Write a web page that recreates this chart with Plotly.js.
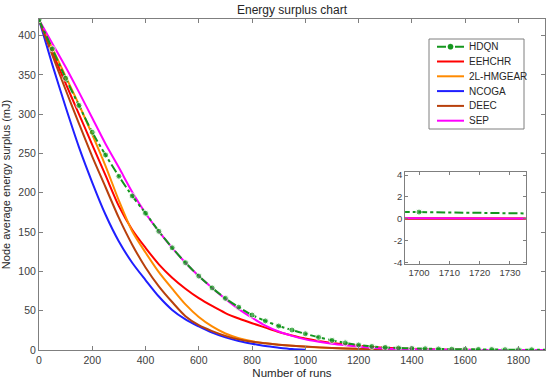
<!DOCTYPE html>
<html>
<head>
<meta charset="utf-8">
<script src="https://cdn.plot.ly/plotly-3.0.1.min.js"></script>
<style>html,body{margin:0;padding:0;background:#fff;}#chart{width:550px;height:386px;}</style>
</head>
<body>
<div id="chart"></div>
<script>
// ---- data ----
const seriesNames = ["HDQN", "EEHCHR", "2L-HMGEAR", "NCOGA", "DEEC", "SEP"];

const runsHDQN = [0,50,100,150,200,250,300,350,400,450,500,550,600,650,700,750,800,850,900,950,1000,1050,1100,1150,1200,1250,1300,1350,1400,1450,1500,1550,1600,1650,1700,1750,1800,1850,1900];
const valHDQN  = [420,383,345.6,311,277,248,221,196,174,151,130,111,94,79,65.7,54.5,44.5,37,30.5,25.4,20.6,16.1,12.3,9.1,6.4,4.5,3.3,2.5,2,1.6,1.3,1.1,0.9,0.78,0.62,0.45,0.36,0.3,0.25];

const runsEEHCHR = [0,50,100,150,200,250,300,350,400,450,500,550,600,650,700,750,800,850,900,950,1000,1050,1100,1150,1200,1300,1400,1500,1600,1700,1800,1900];
const valEEHCHR  = [420,379,339,300,261,222,183,153,130,109,92,78,66,56,47,40,34,28.5,23,18.5,14.5,11.5,9,7,5.5,3,1.5,0.7,0.25,0.05,0,0];

const runs2L = [0,50,100,150,200,250,300,350,400,450,500,550,600,650,700,750,800,850,900,950,1000,1100,1200,1300,1400,1500,1600,1700,1800,1900];
const val2L  = [420,384,348,312,274,234,190,151,124,99,78,58,42,30,21,15,11,8.5,6.8,5.4,4.2,2.5,1.2,0.5,0.2,0.05,0,0,0,0];

const runsNCOGA = [0,50,100,150,200,250,300,350,400,450,500,550,600,650,700,750,800,850,900,950,1000];
const valNCOGA  = [420,363,309,258,213,172,138,111,89,68,51,39,30,22,16,11.5,8,5,3,1.3,0.3];

const runsDEEC = [0,50,100,150,200,250,300,350,400,450,500,550,600,650,700,750,800,850,900,950,1000,1100,1200,1300,1400,1500,1600,1700,1800,1900];
const valDEEC  = [420,375,331,288,246,207,168,134,105,81,61,43,31.5,24,18,13.5,10.5,8.5,6.8,5.4,4.3,2.6,1.5,0.7,0.3,0.1,0,0,0,0];

const runsSEP = [0,50,100,150,200,250,300,350,400,450,500,550,600,650,700,750,800,850,900,950,1000,1050,1100,1150,1200,1250,1300,1400,1500,1600,1700,1800,1900];
const valSEP  = [420,390,360,328,295,262,232,201,174,151,130,111,94,79,65,52,41,31,23.5,18,13.5,10.5,8,6,4.3,3,2,1,0.5,0.2,0.05,0,0];

const xTicks = [0,200,400,600,800,1000,1200,1400,1600,1800];
const yTicks = [0,50,100,150,200,250,300,350,400];
const insetXTicks = [1700,1710,1720,1730];
const insetYTicks = [-4,-2,0,2,4];

// ---- styles ----
const colors = {HDQN:"#14961e", EEHCHR:"#ff0000", "2L-HMGEAR":"#ff8a00", NCOGA:"#1f1fff", DEEC:"#b8400c", SEP:"#ff00ff"};
const font = "Liberation Sans, Arial, Helvetica, sans-serif";
const W = 550, H = 386;
const M = {l: 39, r: 5, t: 19, b: 36};
const plotW = W - M.l - M.r, plotH = H - M.t - M.b;
const px2x = p => (p - M.l) / plotW;
const py2y = p => (H - M.b - p) / plotH;
// legend geometry (pixels)
const LG = {left: 429, top: 39, right: 524, bottom: 129, line0: 437, line1: 464, textX: 467, row0: 46.7, rowStep: 14.8};

const seriesData = {
  HDQN:[runsHDQN,valHDQN], EEHCHR:[runsEEHCHR,valEEHCHR], "2L-HMGEAR":[runs2L,val2L],
  NCOGA:[runsNCOGA,valNCOGA], DEEC:[runsDEEC,valDEEC], SEP:[runsSEP,valSEP]
};
const drawOrder = ["EEHCHR","2L-HMGEAR","NCOGA","DEEC","SEP","HDQN"];

function makeTrace(name, xa, ya) {
  const [x, y] = seriesData[name];
  const t = {
    x: x, y: y, name: name, type: "scatter", xaxis: xa, yaxis: ya,
    line: {color: colors[name], width: 2, shape: "spline", smoothing: 0.8},
    showlegend: false, hoverinfo: "skip", cliponaxis: true
  };
  if (name === "HDQN") {
    t.mode = "lines+markers";
    t.line.dash = "dashdot";
    t.marker = {color: colors[name], size: x.map((v, i) => i === x.length - 1 ? 0 : 6), symbol: "circle"};
  } else {
    t.mode = "lines";
  }
  return t;
}

const traces = [];
drawOrder.forEach(n => traces.push(makeTrace(n, "x", "y")));
drawOrder.forEach(n => traces.push(makeTrace(n, "x2", "y2")));

// custom legend (MATLAB-like compact box)
const shapes = [{
  type: "rect", xref: "paper", yref: "paper", layer: "above",
  x0: px2x(LG.left), x1: px2x(LG.right), y0: py2y(LG.bottom), y1: py2y(LG.top),
  fillcolor: "#ffffff", line: {color: "#7f7f7f", width: 1}
}];
const annotations = [];
seriesNames.forEach((n, i) => {
  const yy = py2y(LG.row0 + i * LG.rowStep);
  shapes.push({
    type: "line", xref: "paper", yref: "paper", layer: "above",
    x0: px2x(LG.line0), x1: px2x(LG.line1), y0: yy, y1: yy,
    line: {color: colors[n], width: 2, dash: n === "HDQN" ? "dashdot" : "solid"}
  });
  if (n === "HDQN") {
    const cx = (LG.line0 + LG.line1) / 2, cy = LG.row0 + i * LG.rowStep, r = 2.6;
    shapes.push({
      type: "circle", xref: "paper", yref: "paper", layer: "above",
      x0: px2x(cx - r), x1: px2x(cx + r), y0: py2y(cy + r), y1: py2y(cy - r),
      fillcolor: colors[n], line: {color: colors[n], width: 0.5}
    });
  }
  annotations.push({
    xref: "paper", yref: "paper", x: px2x(LG.textX), y: yy, xanchor: "left", yanchor: "middle",
    text: n, showarrow: false, font: {family: font, size: 10, color: "#262626"}
  });
});

const axisCommon = {
  showline: true, linecolor: "#7f7f7f", linewidth: 1, mirror: "ticks",
  ticks: "inside", ticklen: 4, tickcolor: "#7f7f7f", showgrid: false, zeroline: false,
  tickfont: {family: font, size: 10.5, color: "#404040"}
};

const layout = {
  width: W, height: H,
  margin: M,
  paper_bgcolor: "#ffffff", plot_bgcolor: "#ffffff",
  font: {family: font, color: "#262626"},
  title: {text: "Energy surplus chart", font: {family: font, size: 12, color: "#262626"},
          x: 0.5, xref: "paper", y: 1 - 10/H, yref: "container", yanchor: "middle"},
  xaxis: Object.assign({}, axisCommon, {
    range: [0, 1900], tickvals: xTicks, domain: [0, 1],
    title: {text: "Number of runs", font: {family: font, size: 11.5, color: "#262626"}, standoff: 4}
  }),
  yaxis: Object.assign({}, axisCommon, {
    range: [0, 421], tickvals: yTicks, domain: [0, 1],
    title: {text: "Node average energy surplus (mJ)", font: {family: font, size: 11, color: "#262626"}, standoff: 6}
  }),
  xaxis2: Object.assign({}, axisCommon, {
    anchor: "y2", domain: [0.7235, 0.9619], range: [1695.4, 1735.2], tickvals: insetXTicks,
    tickfont: {family: font, size: 9.5, color: "#404040"}, ticklen: 3
  }),
  yaxis2: Object.assign({}, axisCommon, {
    anchor: "x2", domain: [0.2598, 0.5369], range: [-4.12, 4.25], tickvals: insetYTicks,
    ticktext: insetYTicks.map(v => String(v)),
    tickfont: {family: font, size: 9.5, color: "#404040"}, ticklen: 3
  }),
  shapes: shapes,
  annotations: annotations,
  showlegend: false
};

Plotly.newPlot("chart", traces, layout, {staticPlot: true, displayModeBar: false});
</script>
</body>
</html>
